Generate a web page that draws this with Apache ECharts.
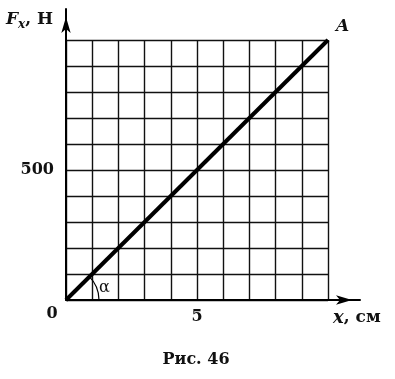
<!DOCTYPE html>
<html><head><meta charset="utf-8">
<script src="https://cdn.jsdelivr.net/npm/echarts@6/dist/echarts.min.js"></script>
<style>html,body{margin:0;padding:0;background:#fff}#c{width:395px;height:379px}</style>
</head><body><div id="c"></div>
<script>
// Data
const xRange = [0, 10];          // x, см
const fRange = [0, 1000];        // F_x, Н
const lineX = [0, 10];
const lineF = [0, 1000];
const xTickLabels = ['5'];
const yTickLabels = ['500'];
const originLabel = '0';
const endLabel = 'A';
const caption = 'Рис. 46';

const FONT = '"DejaVu Serif", serif';
const chart = echarts.init(document.getElementById('c'), null, {renderer: 'canvas'});

const lineData = lineX.map((x, i) => i === lineX.length - 1
  ? {value: [x, lineF[i]], label: {show: true, formatter: endLabel, position: 'right', offset: [3, -13],
      fontFamily: FONT, fontStyle: 'italic', fontWeight: 'bold', fontSize: 17, color: '#111'}}
  : [x, lineF[i]]);

chart.setOption({
  animation: false,
  backgroundColor: '#fff',
  grid: [
    {left: 66, top: 40, width: 262, height: 260},
    {left: 66, top: 9, width: 294, height: 291}
  ],
  xAxis: [
    {gridIndex: 0, type: 'value', min: xRange[0], max: xRange[1], interval: 1,
     axisLine: {show: false}, axisTick: {show: false},
     axisLabel: {formatter: v => xTickLabels.includes(String(v)) ? String(v) : '', margin: 9,
       fontFamily: FONT, fontWeight: 'bold', fontSize: 16, color: '#111'},
     splitLine: {show: true, lineStyle: {color: '#111', width: 1.4}}},
    {gridIndex: 1, type: 'value', min: 0, max: 1,
     axisLine: {show: true, symbol: ['none', 'arrow'], symbolSize: [7, 16], symbolOffset: [0, -8],
       lineStyle: {color: '#000', width: 2}},
     axisTick: {show: false}, axisLabel: {show: false}, splitLine: {show: false}}
  ],
  yAxis: [
    {gridIndex: 0, type: 'value', min: fRange[0], max: fRange[1], interval: 100,
     axisLine: {show: false}, axisTick: {show: false},
     axisLabel: {formatter: v => yTickLabels.includes(String(v)) ? String(v) : '', margin: 12,
       fontFamily: FONT, fontWeight: 'bold', fontSize: 16, color: '#111'},
     splitLine: {show: true, lineStyle: {color: '#111', width: 1.4}}},
    {gridIndex: 1, type: 'value', min: 0, max: 1,
     axisLine: {show: true, symbol: ['none', 'arrow'], symbolSize: [7, 16], symbolOffset: [0, -8],
       lineStyle: {color: '#000', width: 2}},
     axisTick: {show: false}, axisLabel: {show: false}, splitLine: {show: false}}
  ],
  series: [{
    type: 'line', xAxisIndex: 0, yAxisIndex: 0, data: lineData,
    symbol: 'circle', symbolSize: 0.1, showSymbol: true, itemStyle: {color: '#000'},
    lineStyle: {color: '#000', width: 4}, z: 5
  }]
});

const o = chart.convertToPixel({gridIndex: 0}, [xRange[0], fRange[0]]);
const r = 33;
chart.setOption({
  graphic: [
    {type: 'arc', shape: {cx: o[0], cy: o[1], r: r, startAngle: -Math.PI / 4, endAngle: 0, clockwise: true},
     style: {stroke: '#000', lineWidth: 1.2, fill: null}, z: 10},
    {type: 'text', x: o[0] + 33, y: o[1] - 12, style: {text: 'α', font: '16px ' + FONT, fill: '#111', textAlign: 'left', textVerticalAlign: 'middle'}, z: 10},
    {type: 'text', x: o[0] - 14, y: o[1] + 14, style: {text: originLabel, font: 'bold 16px ' + FONT, fill: '#111', textAlign: 'center', textVerticalAlign: 'middle'}},
    {type: 'text', x: 6, y: 20, style: {
      text: '{f|F}{s|x}{n|, Н}', textVerticalAlign: 'middle',
      rich: {
        f: {fontFamily: FONT, fontStyle: 'italic', fontWeight: 'bold', fontSize: 17, fill: '#111'},
        s: {fontFamily: FONT, fontStyle: 'italic', fontWeight: 'bold', fontSize: 12, fill: '#111', padding: [10, 0, 0, 0]},
        n: {fontFamily: FONT, fontWeight: 'bold', fontSize: 17, fill: '#111'}
      }}},
    {type: 'text', x: 333, y: 318, style: {
      text: '{i|x}{n|, см}', textVerticalAlign: 'middle',
      rich: {
        i: {fontFamily: FONT, fontStyle: 'italic', fontWeight: 'bold', fontSize: 18, fill: '#111'},
        n: {fontFamily: FONT, fontWeight: 'bold', fontSize: 17, fill: '#111'}
      }}},
    {type: 'text', x: 196, y: 360, style: {text: caption, font: 'bold 16px ' + FONT, fill: '#111', textAlign: 'center', textVerticalAlign: 'middle'}}
  ]
});
</script></body></html>
